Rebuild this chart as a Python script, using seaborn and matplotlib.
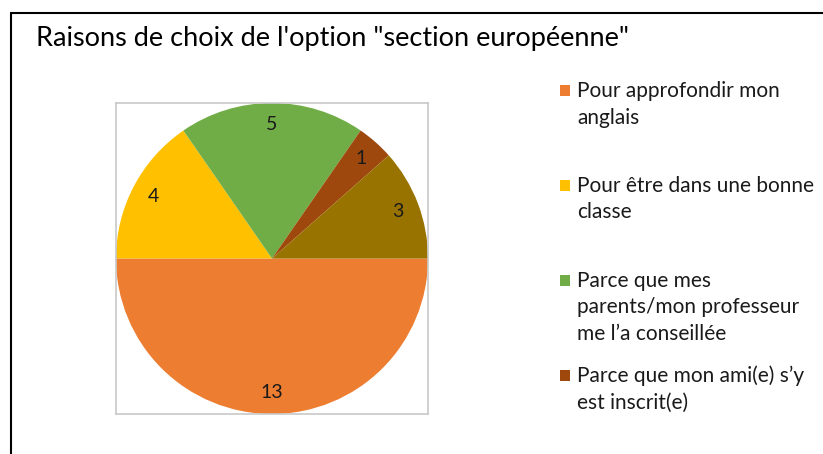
import matplotlib
matplotlib.use("Agg")
import matplotlib.pyplot as plt
from matplotlib.lines import Line2D
from matplotlib.patches import Rectangle
import seaborn as sns

sns.set_theme(style="white")
plt.rcParams["font.family"] = ["Lato", "DejaVu Sans"]

# Survey answers: why pupils chose the "section européenne" option
reasons = [
    "Pour approfondir mon\nanglais",
    "Pour être dans une bonne\nclasse",
    "Parce que mes\nparents/mon professeur\nme l’a conseillée",
    "Parce que mon ami(e) s’y\nest inscrit(e)",
    "Autre raison",
]
counts = [13, 4, 5, 1, 3]
colors = ["#ED7D31", "#FFC000", "#70AD47", "#9E480E", "#997300"]
shown_in_legend = 4

W, H = 823, 454
fig = plt.figure(figsize=(W / 100, H / 100), dpi=100)
fig.patch.set_facecolor("white")

# chart frame (top and left edges)
fig.add_artist(Line2D([10.5 / W, 1], [1 - 12.5 / H, 1 - 12.5 / H], color="black", lw=1.5))
fig.add_artist(Line2D([10.5 / W, 10.5 / W], [0, 1 - 12.5 / H], color="black", lw=1.5))

fig.text(36 / W, 1 - 38.5 / H, "Raisons de choix de l'option \"section européenne\"",
         fontsize=19.5, color="black", va="center", ha="left")

# plot area holding the pie
x0, y0, x1, y1 = 116, 103, 428, 414
ax = fig.add_axes([x0 / W, 1 - y1 / H, (x1 - x0) / W, (y1 - y0) / H])
wedges, texts = ax.pie(
    counts,
    colors=colors,
    labels=[str(c) for c in counts],
    labeldistance=0.86,
    startangle=0,
    counterclock=False,
    radius=1.0,
    wedgeprops=dict(linewidth=0),
    textprops=dict(fontsize=14, color="#1a1a1a", ha="center", va="center"),
)
ax.set_xlim(-1, 1)
ax.set_ylim(-1, 1)
ax.set_aspect("auto")
ax.set_frame_on(True)
for s in ax.spines.values():
    s.set_visible(True)
    s.set_color("#c8c8c8")
    s.set_linewidth(1.2)
ax.set_xticks([])
ax.set_yticks([])

# legend: evenly spaced entries
entry_mid = [90.7, 185, 280, 375]
for i in range(shown_in_legend):
    yc = entry_mid[i]
    fig.patches.append(Rectangle((560 / W, 1 - (yc + 5.5) / H), 10 / W, 11 / H,
                                 transform=fig.transFigure, facecolor=colors[i],
                                 edgecolor="none"))
    fig.text(577 / W, 1 - (yc - 9.3) / H, reasons[i], fontsize=15, color="#1a1a1a",
             ha="left", va="top", linespacing=1.4)

fig.savefig("out.png", dpi=100, facecolor="white")
